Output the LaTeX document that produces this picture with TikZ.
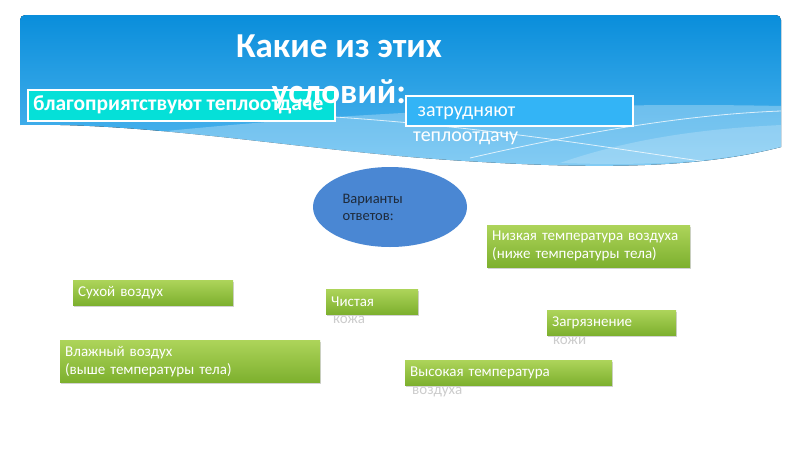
\documentclass[tikz,border=0pt]{standalone}
\usepackage{fontspec}
\setmainfont{Carlito}
\usetikzlibrary{shapes.geometric,shadows}

\definecolor{skytop}{HTML}{0A8EDB}
\definecolor{skybot}{HTML}{55B9F0}
\definecolor{turq}{HTML}{05E0D8}
\definecolor{boxblue}{HTML}{33B4F6}
\definecolor{ovalblue}{HTML}{4A87D3}
\definecolor{leaftop}{HTML}{ADD45A}
\definecolor{leafbot}{HTML}{7DB02E}
\definecolor{inkdark}{HTML}{1E2A3A}

\tikzset{
  answer/.style={anchor=north west, inner xsep=5pt, inner ysep=4pt, align=left, text=white,
    top color=leaftop, bottom color=leafbot,
    drop shadow={opacity=0.35, shadow xshift=1pt, shadow yshift=-2pt},
    font=\fontsize{15}{18}\selectfont},
  spill/.style={anchor=north west, inner sep=0pt, text=black!20,
    font=\fontsize{15}{18}\selectfont},
  header/.style={anchor=north west, draw=white, line width=1.6pt, inner sep=0pt, text=white}
}

\begin{document}
\begin{tikzpicture}[x=1pt,y=-1pt]
\useasboundingbox (0,0) rectangle (800,450);
\fill[white] (0,0) rectangle (800,450);
% sky band
\fill[top color=skytop, bottom color=skybot] (20,125) {[rounded corners=5pt] -- (20,15) -- (781,15)} -- (781,147)
  .. controls (700,168) and (600,170) .. (450,160) .. controls (300,150) and (150,122) .. (20,125) -- cycle;
\fill[white, opacity=0.28] (110,137) .. controls (350,110) and (600,102) .. (781,106) -- (781,147)
  .. controls (700,168) and (600,170) .. (450,160) .. controls (300,150) and (200,138) .. (110,137);
\fill[white, opacity=0.2] (560,163) .. controls (640,135) and (720,128) .. (781,125) -- (781,147)
  .. controls (720,162) and (650,166) .. (560,163);
\draw[white, opacity=0.75, line width=0.8pt] (335,117) .. controls (500,128) and (620,150) .. (715,163);
\draw[white, opacity=0.75, line width=0.8pt] (470,158) .. controls (600,128) and (700,114) .. (781,111);

\node[header, fill=turq, minimum width=307, minimum height=31] (good) at (27,89) {};
\node[anchor=west, text=white, inner sep=0pt, font=\fontsize{21.5}{22}\selectfont\bfseries] (goodtext) at (33,105) {благоприятствуют теплоотдаче};

\node[header, fill=boxblue, minimum width=227, minimum height=30] (bad) at (405,95) {};
\node[anchor=north west, text=white, inner sep=0pt, align=left, font=\fontsize{20}{25}\selectfont] (badtext) at (413,107) {\ затрудняют\\теплоотдачу};

\node[text=white, font=\fontsize{35}{46}\selectfont\bfseries, align=center] (title) at (339,72) {Какие из этих\\условий:};

\node[ellipse, fill=ovalblue, minimum width=154, minimum height=80] (oval) at (390,207) {};
\node[text=inkdark, text width=95, align=left, inner sep=0pt, font=\fontsize{14.5}{17}\selectfont] (ovaltext) at (oval.center) {Варианты\\ответов:};

\node[answer, text width=193, minimum height=42] (low) at (487,225) {Низкая температура воздуха\\(ниже температуры тела)};
\node[answer, text width=150, minimum height=25] (dry) at (73,280) {Сухой воздух};
\node[answer, text width=82, minimum height=25] (clean) at (326,289) {Чистая};
\node[spill] (cleanrest) at (333,316) {кожа};
\node[answer, text width=250, minimum height=42] (humid) at (60,340) {Влажный воздух\\(выше температуры тела)};
\node[answer, text width=119, minimum height=25] (dirty) at (547,310) {Загрязнение};
\node[spill] (dirtyrest) at (553,337) {кожи};
\node[answer, text width=197, minimum height=25] (high) at (405,360) {Высокая температура};
\node[spill] (highrest) at (412,387) {воздуха};
\end{tikzpicture}
\end{document}
